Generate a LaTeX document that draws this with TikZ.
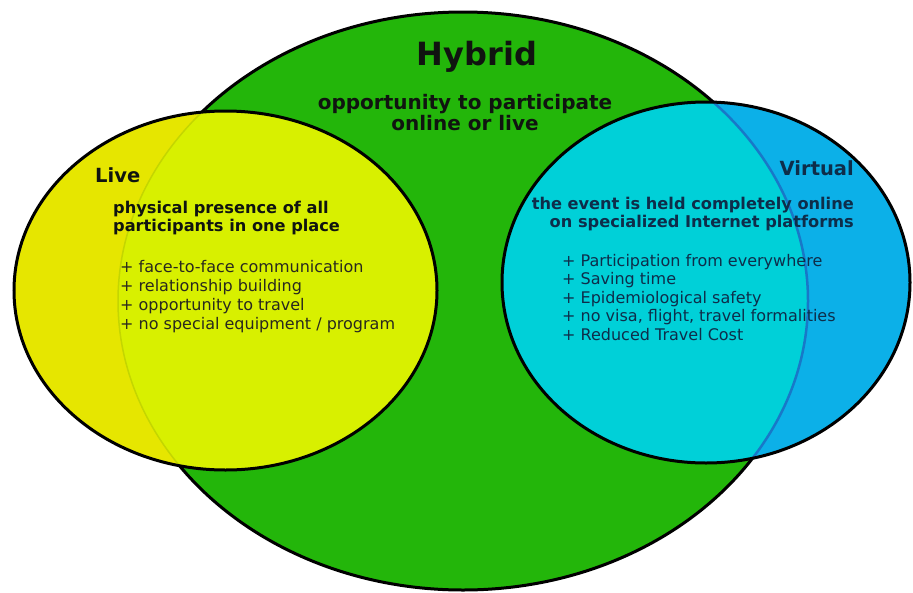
\documentclass[tikz,border=0pt]{standalone}
\usepackage{fontspec}
\setmainfont{DejaVu Sans}
\definecolor{hgreen}{RGB}{35,182,10}
\definecolor{lyellow}{RGB}{230,230,0}
\definecolor{llime}{RGB}{216,240,0}
\definecolor{vblue}{RGB}{12,176,232}
\definecolor{vcyan}{RGB}{0,208,216}
\definecolor{faintline}{RGB}{196,214,0}
\definecolor{blueline}{RGB}{24,120,200}
\definecolor{txtdark}{RGB}{16,20,16}
\definecolor{txtgray}{RGB}{40,40,30}
\definecolor{txtnavy}{RGB}{14,45,74}
\begin{document}
\begin{tikzpicture}[x=1pt,y=-1pt,
  outline/.style={draw=black,line width=3pt},
  ttl/.style={inner sep=0pt,font=\fontsize{19.5}{22}\selectfont\bfseries},
  sub/.style={inner sep=0pt,font=\fontsize{16.2}{18}\selectfont\bfseries},
  lst/.style={inner sep=0pt,align=left}]
\useasboundingbox (0,0) rectangle (913,592);
\fill[white] (0,0) rectangle (913,592);
\coordinate (hc) at (463,301);
\coordinate (lc) at (225.5,290.5);
\coordinate (vc) at (706,282.5);
% hybrid
\path[fill=hgreen,outline] (hc) ellipse [x radius=345,y radius=289];
% live
\path[fill=lyellow] (lc) ellipse [x radius=211.5,y radius=179.5];
\begin{scope}
  \clip (hc) ellipse [x radius=345,y radius=289];
  \fill[llime] (lc) ellipse [x radius=211.5,y radius=179.5];
\end{scope}
\begin{scope}
  \clip (lc) ellipse [x radius=211.5,y radius=179.5];
  \draw[faintline,line width=1.5pt] (hc) ellipse [x radius=345,y radius=289];
\end{scope}
\path[outline] (lc) ellipse [x radius=211.5,y radius=179.5];
% virtual
\path[fill=vblue] (vc) ellipse [x radius=204,y radius=180.5];
\begin{scope}
  \clip (hc) ellipse [x radius=345,y radius=289];
  \fill[vcyan] (vc) ellipse [x radius=204,y radius=180.5];
\end{scope}
\begin{scope}
  \clip (vc) ellipse [x radius=204,y radius=180.5];
  \draw[blueline,line width=2.5pt] (hc) ellipse [x radius=345,y radius=289];
\end{scope}
\path[outline] (vc) ellipse [x radius=204,y radius=180.5];
% texts (base anchor of a multi-line node = last line's baseline)
\node[inner sep=0pt,anchor=base,text=txtdark,font=\fontsize{32}{36}\selectfont\bfseries] (hybrid) at (477,65) {Hybrid};
\node[inner sep=0pt,anchor=base,text=txtdark,align=center,font=\fontsize{20}{20.5}\selectfont\bfseries] (hsub) at (465,130) {opportunity to participate\\online or live};
\node[ttl,anchor=base west,text=txtdark] (live) at (95,182) {Live};
\node[sub,anchor=base west,text=txtdark,align=left] (lsub) at (113,231) {physical presence of all\\participants in one place};
\node[lst,anchor=base west,text=txtgray,font=\fontsize{16}{18.7}\selectfont] (llist) at (120,329) {+ face-to-face communication\\+ relationship building\\+ opportunity to travel\\+ no special equipment / program};
\node[ttl,anchor=base east,text=txtnavy] (virtual) at (854,175) {Virtual};
\node[sub,anchor=base east,text=txtnavy,align=right] (vsub) at (854,227) {the event is held completely online\\on specialized Internet platforms};
\node[lst,anchor=base west,text=txtnavy,font=\fontsize{16}{18.5}\selectfont] (vlist) at (562,340) {+ Participation from everywhere\\+ Saving time\\+ Epidemiological safety\\+ no visa, flight, travel formalities\\+ Reduced Travel Cost};
\end{tikzpicture}
\end{document}
